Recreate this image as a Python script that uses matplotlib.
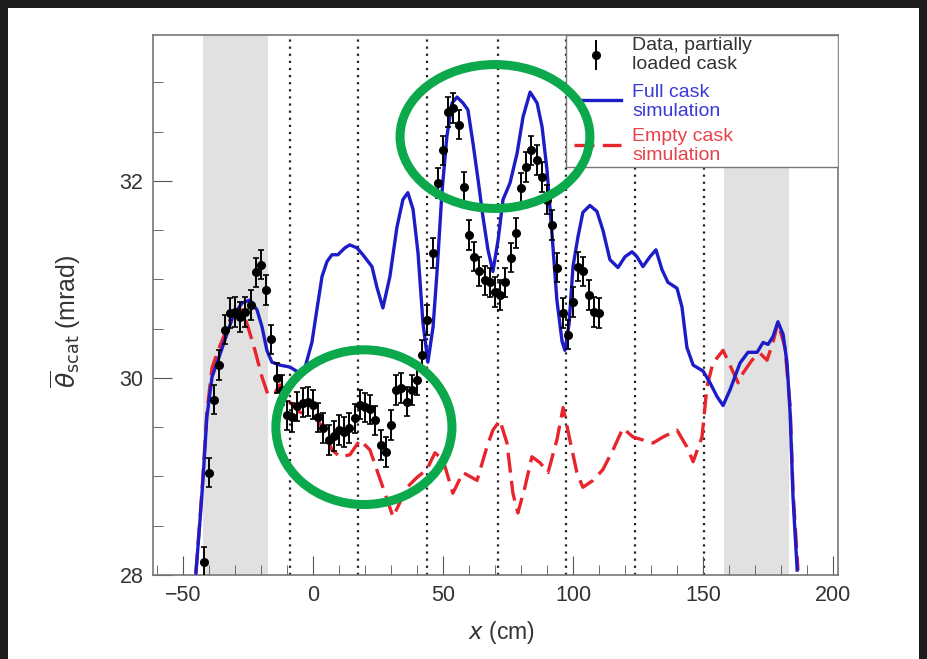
import matplotlib
matplotlib.use("Agg")
import matplotlib.pyplot as plt
from matplotlib.patches import Rectangle, Ellipse
from matplotlib.lines import Line2D

plt.rcParams["font.family"] = ["Liberation Sans", "DejaVu Sans"]

# full cask simulation (blue)
full_x = [-45.0, -43.5, -42.3, -40.8, -38.8, -36.5, -33.8, -30.8, -27.3, -24.2, -21.5, -19.6,
          -17.7, -15.8, -12.7, -8.8, -5.8, -3.1, -0.4, 1.5, 3.5, 5.4, 7.3, 9.6, 12.3, 14.2,
          16.9, 19.2, 22.7, 24.6, 26.9, 29.6, 32.3, 34.6, 36.5, 38.5, 40.4, 42.3, 44.2, 46.2,
          47.7, 49.6, 51.5, 53.5, 55.4, 57.7, 59.6, 61.5, 63.5, 65.4, 67.3, 69.2, 71.2, 73.1,
          75.8, 78.5, 80.8, 83.5, 86.2, 88.1, 90.0, 91.9, 93.8, 95.8, 96.9, 98.5, 100.0, 101.9,
          103.8, 106.5, 109.2, 111.5, 114.2, 117.3, 120.0, 122.7, 124.6, 126.9, 129.6, 131.9,
          134.2, 136.5, 140.0, 141.9, 143.8, 146.2, 150.0, 152.7, 155.4, 157.7, 160.4, 164.2,
          167.3, 170.8, 173.1, 175.0, 176.9, 178.8, 180.8, 182.3, 183.5, 184.6, 186.2]
full_y = [28.02, 28.53, 28.96, 29.60, 30.01, 30.18, 30.39, 30.62, 30.76, 30.79, 30.69, 30.52,
          30.28, 30.16, 30.13, 30.11, 30.06, 30.10, 30.36, 30.69, 31.03, 31.18, 31.25, 31.25,
          31.32, 31.35, 31.32, 31.25, 31.13, 30.92, 30.71, 31.03, 31.53, 31.81, 31.88, 31.71,
          31.27, 30.56, 30.16, 30.52, 31.07, 31.88, 32.45, 32.79, 32.85, 32.79, 32.72, 32.39,
          32.01, 31.63, 31.30, 31.08, 31.40, 31.81, 31.98, 32.28, 32.65, 32.90, 32.79, 32.55,
          32.11, 31.47, 30.79, 30.37, 30.28, 30.55, 31.13, 31.43, 31.68, 31.75, 31.69, 31.50,
          31.20, 31.12, 31.23, 31.28, 31.23, 31.13, 31.23, 31.30, 31.10, 30.97, 30.91, 30.72,
          30.31, 30.13, 30.07, 29.95, 29.81, 29.72, 29.88, 30.15, 30.26, 30.26, 30.36, 30.34,
          30.42, 30.57, 30.44, 30.15, 29.64, 28.79, 28.05]

# empty cask simulation (red)
empty_x = [-45.0, -43.5, -42.3, -40.8, -38.8, -36.9, -34.6, -31.9, -28.8, -27.3, -25.0, -22.3,
           -19.6, -17.3, -14.6, -12.7, -8.8, -5.0, 0.0, 3.8, 7.3, 10.4, 14.2, 18.1, 21.9, 26.9,
           30.8, 36.2, 40.0, 43.8, 46.9, 50.0, 53.8, 57.7, 63.1, 66.9, 69.2, 71.9, 74.6, 76.9,
           78.8, 81.5, 84.2, 87.3, 90.4, 93.8, 96.2, 98.8, 101.5, 103.8, 107.7, 111.5, 115.4,
           119.2, 123.1, 126.9, 130.8, 134.6, 140.0, 143.8, 146.2, 149.6, 151.5, 153.8, 157.7,
           161.2, 163.5, 165.4, 168.8, 171.9, 174.6, 176.9, 178.8, 181.5, 183.5, 184.6, 186.5]
empty_y = [28.02, 28.55, 29.00, 29.65, 30.10, 30.25, 30.40, 30.59, 30.66, 30.69, 30.52, 30.28,
           30.01, 29.83, 29.85, 29.93, 29.75, 29.65, 29.62, 29.50, 29.27, 29.20, 29.22, 29.37,
           29.27, 28.89, 28.59, 28.89, 28.99, 29.07, 29.24, 29.17, 28.83, 29.04, 28.96, 29.30,
           29.47, 29.57, 29.34, 28.83, 28.63, 28.89, 29.20, 29.14, 29.04, 29.37, 29.70, 29.37,
           29.04, 28.89, 28.96, 29.07, 29.27, 29.49, 29.40, 29.37, 29.34, 29.40, 29.47, 29.30,
           29.15, 29.40, 29.91, 30.15, 30.28, 30.08, 29.95, 30.05, 30.18, 30.25, 30.18, 30.36,
           30.56, 30.31, 29.71, 28.85, 28.05]

# data, partially loaded cask
data_x = list(range(-42, 112, 2))
data_y = [28.13, 29.04, 29.78, 30.13, 30.49, 30.66, 30.67, 30.62, 30.67, 30.74, 31.07, 31.15,
          30.89, 30.39, 30.00, 29.88, 29.62, 29.60, 29.71, 29.75, 29.76, 29.73, 29.60, 29.49,
          29.37, 29.41, 29.47, 29.45, 29.49, 29.59, 29.73, 29.70, 29.68, 29.57, 29.32, 29.25,
          29.52, 29.88, 29.90, 29.76, 29.88, 29.98, 30.23, 30.59, 31.27, 31.98, 32.31, 32.70,
          32.74, 32.57, 31.94, 31.45, 31.23, 31.08, 30.99, 30.97, 30.87, 30.84, 30.97, 31.22,
          31.47, 31.93, 32.14, 32.31, 32.21, 32.04, 31.81, 31.55, 31.12, 30.66, 30.44, 30.77,
          31.13, 31.08, 30.84, 30.67, 30.66]
data_err = 0.15

divider_x = [-9, 17.5, 44, 71, 97.5, 124, 150.5]
bands = [(-42.3, -17.3), (158, 183)]

BLUE = "#1c1cc8"
RED = "#e8242c"

fig = plt.figure(figsize=(9.27, 6.59), dpi=100, facecolor="#1c1c1c")
fig.patches.append(Rectangle((8 / 927, 0), 1 - 16 / 927, 1 - 8 / 659, transform=fig.transFigure,
                             facecolor="white", edgecolor="none", zorder=-10))
ax = fig.add_axes([153 / 927, 84 / 659, 685 / 927, 540 / 659])
ax.set_facecolor("white")

for lo, hi in bands:
    ax.axvspan(lo, hi, color="#e1e1e1", lw=0, zorder=0)
for xd in divider_x:
    ax.axvline(xd, color="#222222", ls=(0, (1, 2.2)), lw=1.6, zorder=1)

ax.plot(empty_x, empty_y, color=RED, lw=2.4, ls=(0, (6, 2.5)), zorder=3)
ax.plot(full_x, full_y, color=BLUE, lw=2.4, zorder=4)
ax.errorbar(data_x, data_y, yerr=data_err, fmt="o", color="black", ms=5.5, elinewidth=1.4,
            capsize=2.5, capthick=1.2, zorder=5)

ax.set_xlim(-61.5, 201.9)
ax.set_ylim(28, 33.48)
ax.set_xticks([-50, 0, 50, 100, 150, 200])
ax.set_xticks(range(-60, 201, 10), minor=True)
ax.set_yticks([28, 30, 32])
ax.set_yticks([28.5, 29, 29.5, 30.5, 31, 31.5, 32.5, 33], minor=True)
ax.set_xticklabels(["\u221250", "0", "50", "100", "150", "200"])
ax.tick_params(which="both", direction="in", top=False, right=False, color="#555555",
               labelsize=15.5, labelcolor="#333333", pad=7)
ax.tick_params(which="major", length=14)
ax.tick_params(which="minor", length=7)
for sp in ax.spines.values():
    sp.set_color("#777777")
    sp.set_linewidth(1.2)

ax.set_xlabel("$x$ (cm)", fontsize=16.5, color="#333333", va="top")
ax.xaxis.set_label_coords(0.508, -0.082)
ax.set_ylabel(r"$\overline{\theta}_{\rm scat}$ (mrad)", fontsize=18, color="#333333")
ax.yaxis.set_label_coords(-0.102, 0.47)

# legend box
ax.add_patch(Rectangle((0.603, 0.755), 0.397, 0.245, transform=ax.transAxes,
                       facecolor="white", edgecolor="#777777", lw=1.0, zorder=6))
lx0, lx1 = 0.614, 0.683
ax.errorbar([0.6465], [0.963], yerr=[[0.028], [0.028]], fmt="o", color="black", ms=5.5,
            elinewidth=1.4, transform=ax.transAxes, zorder=7, clip_on=False)
ax.add_line(Line2D([lx0, lx1], [0.88, 0.88], color=BLUE, lw=2.4, transform=ax.transAxes,
                   zorder=7))
ax.add_line(Line2D([lx0, lx1], [0.796, 0.796], color=RED, lw=2.4, ls=(0, (6, 2.5)),
                   transform=ax.transAxes, zorder=7))
legend_txt = [("Data, partially\nloaded cask", "#333333", 0.963),
              ("Full cask\nsimulation", "#3a3ad8", 0.876),
              ("Empty cask\nsimulation", "#e8424a", 0.794)]
for txt, col, yy in legend_txt:
    ax.text(0.700, yy, txt, color=col, fontsize=14, va="center", ha="left",
            linespacing=1.12, transform=ax.transAxes, zorder=7)

# highlight ellipses
ax.add_patch(Ellipse((70.0, 32.45), 73, 1.46, fill=False, edgecolor="#0ca84c", lw=6.5,
                     zorder=8, clip_on=False))
ax.add_patch(Ellipse((19.6, 29.50), 67.7, 1.57, fill=False, edgecolor="#0ca84c", lw=6.5,
                     zorder=8, clip_on=False))

fig.savefig("out.png", dpi=100, facecolor=fig.get_facecolor())
